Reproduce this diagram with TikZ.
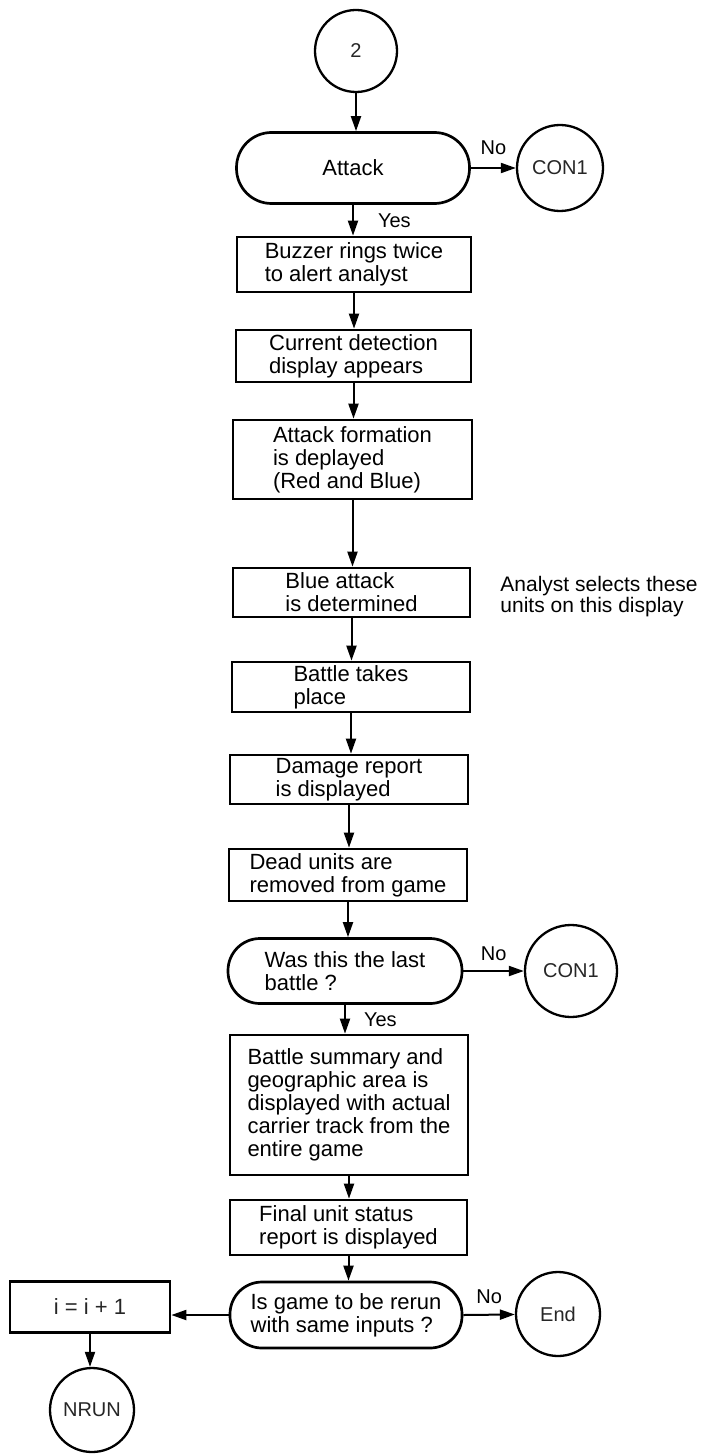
\documentclass[tikz,border=0pt]{standalone}
\usepackage{fontspec}
\setmainfont{Liberation Sans}
\usetikzlibrary{arrows.meta}
\begin{document}
\begin{tikzpicture}[x=0.5pt,y=-0.5pt,
  box/.style={draw, line width=1.35pt, rectangle, inner sep=0pt, align=left, font=\fontsize{11}{11.5}\selectfont},
  term/.style={draw, line width=1.35pt, rectangle, inner sep=0pt, align=left, font=\fontsize{11}{11.5}\selectfont},
  conn/.style={draw, line width=1.15pt, circle, inner sep=0pt, font=\fontsize{10}{12}\selectfont, text=black!85},
  arr/.style={line width=1pt, -{Triangle[length=7.5pt,width=5pt]}},
  lbl/.style={inner sep=0pt, font=\fontsize{10}{12}\selectfont}
]
\useasboundingbox (0,0) rectangle (705,1455);

\node[conn, minimum size=41pt] (c2) at (356,51) {2};
\node[term, rounded corners=17.5pt, minimum width=116.5pt, minimum height=35.5pt] (attack) at (353,168) {Attack};
\node[conn, minimum size=43pt] (con1a) at (560,168) {CON1};
\node[box, minimum width=117pt, minimum height=27.5pt] (buzzer) at (354,264.5) {Buzzer rings twice\\to alert analyst};
\node[box, minimum width=117.5pt, minimum height=26pt] (current) at (353.5,356) {Current detection\\display appears};
\node[box, minimum width=119.5pt, minimum height=39.5pt] (formation) at (352.5,459.5) {Attack formation\\is deplayed\\(Red and Blue)};
\node[box, minimum width=118.5pt, minimum height=24.5pt] (blue) at (351.5,592.5) {Blue attack\\is determined};
\node[box, minimum width=119pt, minimum height=25pt] (battle) at (351,687) {Battle takes\\place};
\node[box, minimum width=119pt, minimum height=24.5pt] (damage) at (349,779.5) {Damage report\\is displayed};
\node[box, minimum width=119pt, minimum height=26pt] (dead) at (348,875) {Dead units are\\removed from game};
\node[term, rounded corners=16pt, minimum width=117pt, minimum height=32.5pt] (wasthis) at (345,971) {Was this the last\\battle ?};
\node[conn, minimum size=46pt] (con1b) at (571,971) {CON1};
\node[box, minimum width=119pt, minimum height=70pt] (summary) at (349,1105) {Battle summary and\\geographic area is\\displayed with actual\\carrier track from the\\entire game};
\node[box, minimum width=118.5pt, minimum height=27.5pt] (final) at (348.5,1227.5) {Final unit status\\report is displayed};
\node[term, rounded corners=16pt, minimum width=116pt, minimum height=33pt] (isgame) at (346,1315) {Is game to be rerun\\with same inputs ?};
\node[conn, minimum size=42pt] (end) at (558,1314) {End};
\node[box, minimum width=80pt, minimum height=25.5pt, align=center, text=black!85] (inc) at (90,1307) {i = i + 1};
\node[conn, minimum size=42pt] (nrun) at (92,1410) {NRUN};
\node[lbl, anchor=west, align=left, font=\fontsize{10.5}{10.5}\selectfont] (note) at (500,597) {Analyst selects these\\units on this display};

\draw[arr] (c2.south) -- (c2.south |- attack.north);
\draw[arr] (attack.east) -- node[lbl, above=6pt] {No} (con1a.west);
\draw[arr] (attack.south) -- node[lbl, right=12pt] {Yes} (attack.south |- buzzer.north);
\draw[arr] (buzzer.south) -- (buzzer.south |- current.north);
\draw[arr] (current.south) -- (current.south |- formation.north);
\draw[arr] (formation.south) -- (formation.south |- blue.north);
\draw[arr] (blue.south) -- (blue.south |- battle.north);
\draw[arr] (battle.south) -- (battle.south |- damage.north);
\draw[arr] (damage.south) -- (damage.south |- dead.north);
\draw[arr] (dead.south) -- (dead.south |- wasthis.north);
\draw[arr] (wasthis.east) -- node[lbl, above=4.5pt] {No} (con1b.west);
\draw[arr] (wasthis.south) -- node[lbl, right=9pt] {Yes} (wasthis.south |- summary.north);
\draw[arr] (summary.south) -- (summary.south |- final.north);
\draw[arr] (final.south) -- (final.south |- isgame.north);
\draw[arr] (isgame.east) -- node[lbl, above=5pt] {No} (end);
\draw[arr] (isgame.west) -- (isgame.west -| inc.east);
\draw[arr] (inc.south) -- (inc.south |- nrun.north);
\end{tikzpicture}
\end{document}
